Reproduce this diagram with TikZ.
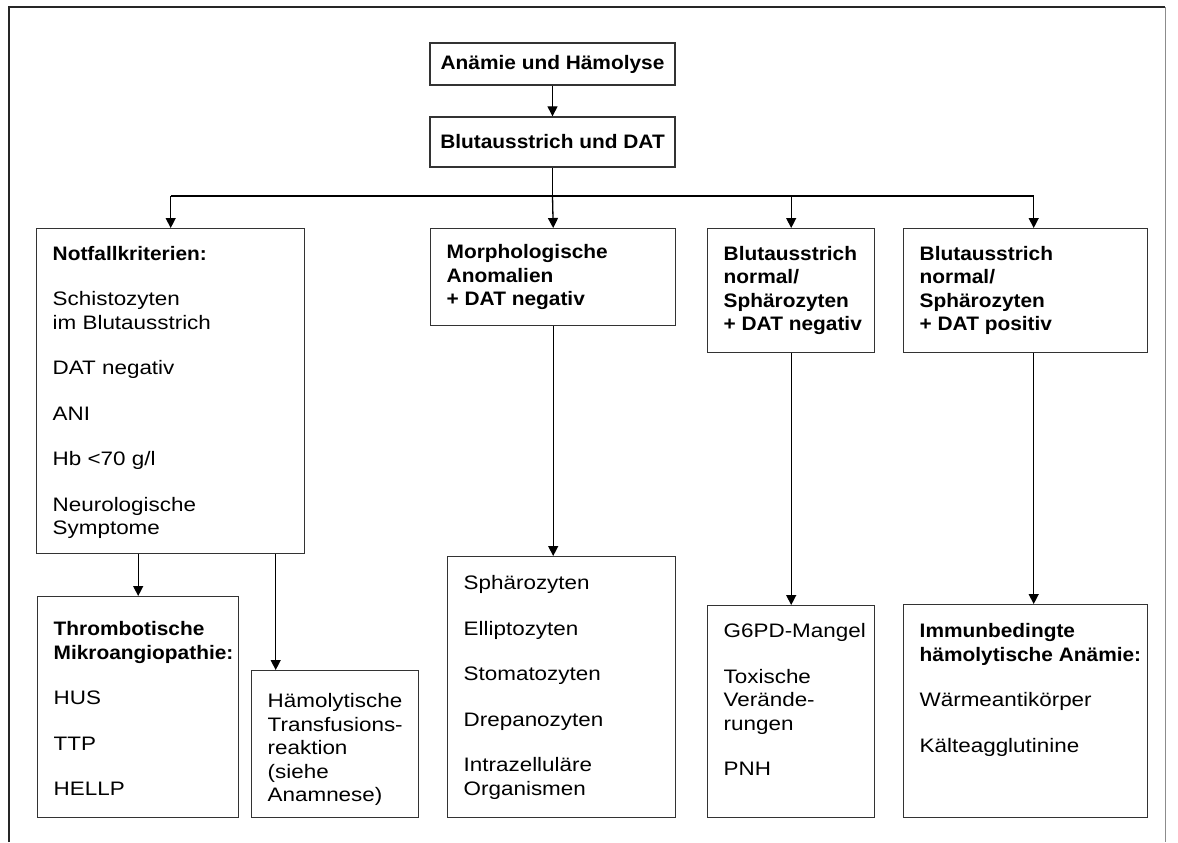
\documentclass[tikz,border=0pt]{standalone}
\usepackage{fontspec}
\setmainfont{Liberation Sans}[UprightFeatures={FakeStretch=1.15}, BoldFeatures={FakeStretch=1.07}]
\usetikzlibrary{arrows.meta}
\colorlet{rahmen}{black!80}
% box with text set from the top: [top gap]{width}{height}{text}
\newcommand{\feld}[4][7.5pt]{\vbox to #3{\hsize=#2\relax\raggedright\leftskip=8pt\relax\vskip#1\strut#4\par\vfill}}

\begin{document}
\begin{tikzpicture}[x=0.5pt, y=-0.5pt,
    every node/.style={font=\fontsize{9.75}{11.75}\selectfont},
    kopf/.style={draw=rahmen, line width=0.7pt, inner sep=0pt, minimum width=122.5pt, font=\fontsize{9.75}{11.75}\selectfont\bfseries},
    kasten/.style={draw=rahmen, line width=0.7pt, inner sep=0pt, anchor=north west},
    linie/.style={line width=0.65pt},
    pfeil/.style={line width=0.65pt, -{Triangle[length=5pt, width=5pt]}}]
  \useasboundingbox (0,0) rectangle (1178,842);
  \draw[line width=1pt, black!85] (9,842) -- (9,7) -- (1165,7);
  \draw[line width=0.5pt, black!45] (1165,7) -- (1165,842);

  \node[kopf, minimum height=21pt] (anaemie) at (552.5,64) {Anämie und Hämolyse};
  \node[kopf, minimum height=25pt] (ausstrich) at (552.5,142) {Blutausstrich und DAT};
  \coordinate (bus) at (552.5,196);

  \node[kasten] (notfall) at (36,228) {\feld{134pt}{162.5pt}{\textbf{Notfallkriterien:}\\[11pt]Schistozyten\\im Blutausstrich\\[11pt]DAT negativ\\[11pt]ANI\\[11pt]Hb <70 g/l\\[11pt]Neurologische\\Symptome}};
  \node[kasten] (morph) at (430,228) {\feld[6.8pt]{122.5pt}{48.5pt}{\bfseries Morphologische\\Anomalien\\+~DAT~negativ}};
  \node[kasten] (normneg) at (707,228) {\feld[7.6pt]{83.5pt}{62pt}{\bfseries Blutausstrich\\normal/\\Sphärozyten\\+~DAT~negativ}};
  \node[kasten] (normpos) at (903,228) {\feld[7.6pt]{122pt}{62pt}{\bfseries Blutausstrich\\normal/\\Sphärozyten\\+~DAT~positiv}};

  \node[kasten] (tma) at (37,596) {\feld[11.3pt]{100.5pt}{110.5pt}{{\bfseries Thrombotische\\Mikroangiopathie:}\\[11pt]HUS\\[11pt]TTP\\[11pt]HELLP}};
  \node[kasten] (transf) at (251,670) {\feld[10.3pt]{83.5pt}{73.5pt}{Hämolytische\\Transfusions-\\reaktion\\(siehe\\Anamnese)}};
  \node[kasten] (formen) at (447,556) {\feld[8.3pt]{114pt}{130.5pt}{Sphärozyten\\[11pt]Elliptozyten\\[11pt]Stomatozyten\\[11pt]Drepanozyten\\[11pt]Intrazelluläre\\Organismen}};
  \node[kasten] (enzym) at (707,605) {\feld[7.8pt]{83.5pt}{106pt}{G6PD-Mangel\\[11pt]Toxische\\Verände-\\rungen\\[11pt]PNH}};
  \node[kasten] (immun) at (903,604) {\feld[8.3pt]{122pt}{106.5pt}{{\bfseries Immunbedingte\\hämolytische~Anämie:}\\[11pt]Wärmeantikörper\\[11pt]Kälteagglutinine}};

  % top of the tree
  \draw[pfeil] (anaemie) -- (ausstrich);
  \draw[linie] (ausstrich) -- (bus);
  \draw[linie] (notfall.north |- bus) -- ([xshift=4pt]normpos.north |- bus);
  \draw[pfeil] (notfall.north |- bus) -- (notfall.north);
  \draw[pfeil] (bus) -- (morph.north);
  \draw[pfeil] (normneg.north |- bus) -- (normneg.north);
  \draw[pfeil] ([xshift=4pt]normpos.north |- bus) -- ([xshift=4pt]normpos.north);

  % second level
  \draw[pfeil] (tma.north |- notfall.south) -- (tma.north);
  \draw[pfeil] ([xshift=-29.75pt]transf.north |- notfall.south) -- ([xshift=-29.75pt]transf.north);
  \draw[pfeil] (morph.south) -- (morph.south |- formen.north);
  \draw[pfeil] (normneg.south) -- (enzym.north);
  \draw[pfeil] ([xshift=4pt]normpos.south) -- ([xshift=4pt]immun.north);
\end{tikzpicture}
\end{document}
